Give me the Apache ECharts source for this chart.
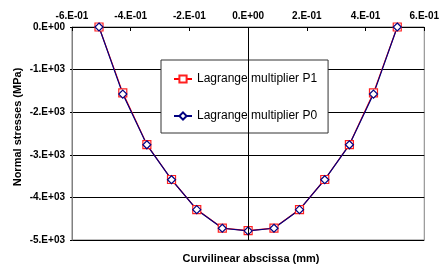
<!DOCTYPE html>
<html>
<head>
<meta charset="utf-8">
<script src="https://cdn.jsdelivr.net/npm/echarts@6/dist/echarts.min.js"></script>
<style>
  html, body {
    margin: 0;
    padding: 0;
    background: #fff;
  }
  #stress-chart {
    width: 442px;
    height: 268px;
  }
</style>
</head>
<body>
<div id="stress-chart"></div>
<script>
// curvilinear abscissa (mm)
const abscissa = [-0.508, -0.427, -0.345, -0.261, -0.175, -0.088, 0, 0.088, 0.175, 0.261, 0.345, 0.427, 0.508];
// normal stresses (MPa)
const stressP1 = [0, -1546, -2760, -3580, -4285, -4720, -4780, -4720, -4285, -3580, -2760, -1546, 0];
const stressP0 = [0, -1575, -2765, -3585, -4288, -4724, -4785, -4724, -4288, -3585, -2765, -1575, 0];

const seriesNames = ['Lagrange multiplier P1', 'Lagrange multiplier P0'];

const xTicks = [-0.6, -0.4, -0.2, 0, 0.2, 0.4, 0.6];
const xTickLabels = ['-6.E-01', '-4.E-01', '-2.E-01', '0.E+00', '2.E-01', '4.E-01', '6.E-01'];
const yTicks = [-5000, -4000, -3000, -2000, -1000, 0];
const yTickLabels = ['-5.E+03', '-4.E+03', '-3.E+03', '-2.E+03', '-1.E+03', '0.E+00'];

const FONT = '"Liberation Sans", Arial, sans-serif';

function tickLabel(ticks, labels) {
  return function(v) {
    let i = ticks.findIndex(t => Math.abs(t - v) < 1e-6);
    return i < 0 ? '' : labels[i];
  };
}

function pairs(xs, ys) {
  return xs.map((x, i) => [x, ys[i]]);
}

let option = {
  animation: false,
  grid: {
    left: 72,
    right: 12,
    top: 27,
    bottom: 28,
    show: true,
    borderColor: '#808080',
    borderWidth: 1,
  },
  legend: {
    orient: 'vertical',
    left: 161,
    top: 60,
    padding: [12, 11, 10, 12],
    itemGap: 23,
    itemWidth: 18,
    itemHeight: 9,
    backgroundColor: '#fff',
    borderColor: '#333',
    borderWidth: 1,
    borderRadius: 0,
    textStyle: {
      fontFamily: FONT,
      fontSize: 12,
      color: '#000',
      lineHeight: 14,
    },
    data: seriesNames,
  },
  xAxis: {
    type: 'value',
    position: 'top',
    min: -0.6,
    max: 0.6,
    interval: 0.2,
    axisLine: {
      show: true,
      onZero: false,
      lineStyle: { color: '#000', width: 1 },
    },
    axisTick: {
      show: true,
      inside: true,
      length: 4,
      lineStyle: { color: '#000' },
    },
    axisLabel: {
      margin: 6,
      fontFamily: FONT,
      fontSize: 10,
      fontWeight: 'bold',
      color: '#000',
      formatter: tickLabel(xTicks, xTickLabels),
    },
    splitLine: { show: false },
  },
  yAxis: {
    type: 'value',
    position: 'left',
    min: -5000,
    max: 0,
    interval: 1000,
    axisLine: {
      show: true,
      onZero: false,
      lineStyle: { color: '#808080', width: 1 },
    },
    axisTick: {
      show: true,
      length: 2,
      lineStyle: { color: '#000' },
    },
    axisLabel: {
      margin: 7,
      fontFamily: FONT,
      fontSize: 10,
      fontWeight: 'bold',
      color: '#000',
      formatter: tickLabel(yTicks, yTickLabels),
    },
    splitLine: {
      show: true,
      lineStyle: { color: '#000', width: 1 },
    },
  },
  series: [
    {
      name: seriesNames[0],
      type: 'line',
      data: pairs(abscissa, stressP1),
      symbol: 'rect',
      symbolSize: 8,
      showAllSymbol: true,
      lineStyle: { color: '#ff0000', width: 1.2 },
      itemStyle: { color: '#fff', borderColor: '#ff2020', borderWidth: 1.2 },
      // vertical axis crossing at x = 0
      markLine: {
        silent: true,
        animation: false,
        symbol: ['none', 'none'],
        label: { show: false },
        lineStyle: { color: '#000', width: 1, type: 'solid' },
        data: [
          [
            { coord: [0, 0] },
            { coord: [0, -5000] },
          ],
        ],
      },
    },
    {
      name: seriesNames[1],
      type: 'line',
      data: pairs(abscissa, stressP0),
      symbol: 'diamond',
      symbolSize: 8,
      showAllSymbol: true,
      lineStyle: { color: '#000080', width: 1.2 },
      itemStyle: { color: '#fff', borderColor: '#000080', borderWidth: 1.2 },
    },
  ],
  graphic: [
    {
      type: 'text',
      x: 251,
      y: 259,
      style: {
        text: 'Curvilinear abscissa (mm)',
        font: 'bold 11px ' + FONT,
        fill: '#000',
        align: 'center',
        verticalAlign: 'middle',
      },
    },
    {
      type: 'text',
      x: 18,
      y: 127,
      rotation: Math.PI / 2,
      style: {
        text: 'Normal stresses (MPa)',
        font: 'bold 11px ' + FONT,
        fill: '#000',
        align: 'center',
        verticalAlign: 'middle',
      },
    },
  ],
};

let dom = document.getElementById('stress-chart');
let chart = echarts.init(dom);
chart.setOption(option);
</script>
</body>
</html>
